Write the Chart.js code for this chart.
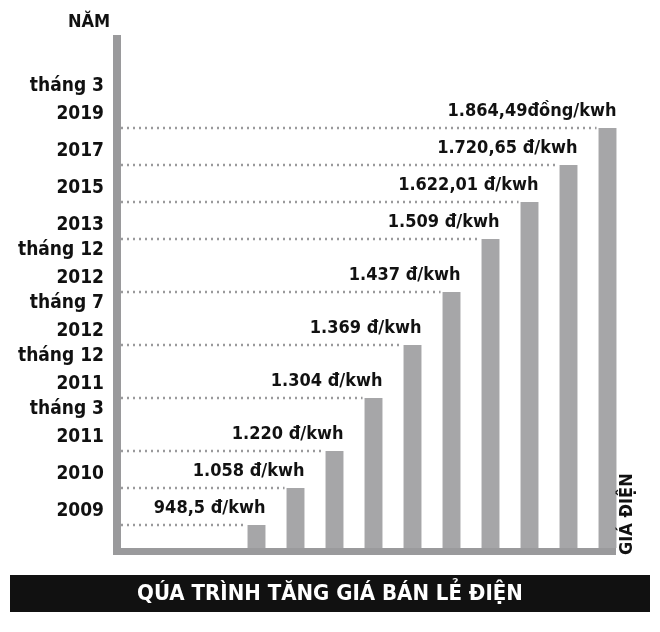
<!DOCTYPE html>
<html><head><meta charset="utf-8">
<script src="https://cdn.jsdelivr.net/npm/chart.js@4/dist/chart.umd.min.js"></script>
<style>html,body{margin:0;padding:0;background:#fff}#w{width:660px;height:632px;position:relative}</style>
</head><body><div id="w"><canvas id="c" width="660" height="632"></canvas></div>
<script>
const periods = ["2009","2010","tháng 3\n2011","tháng 12\n2011","tháng 7\n2012","tháng 12\n2012","2013","2015","2017","tháng 3\n2019"];
const prices = [948.5,1058,1220,1304,1369,1437,1509,1622.01,1720.65,1864.49];
const priceLabels = ["948,5 đ/kwh","1.058 đ/kwh","1.220 đ/kwh","1.304 đ/kwh","1.369 đ/kwh","1.437 đ/kwh","1.509 đ/kwh","1.622,01 đ/kwh","1.720,65 đ/kwh","1.864,49đồng/kwh"];
const FONT = '"DejaVu Sans Condensed", "DejaVu Sans", sans-serif';
const GRAY = '#a6a6a8';

// Stylised "ladder" value scale: price steps spaced by label height, as in the original graphic
class LadderScale extends Chart.LinearScale {
  getPixelForValue(v){
    const bottom=this.bottom, first=23, small=37, big=53;
    const pts=[[this.min,bottom],[prices[0],bottom-first]];
    let p=bottom-first;
    for(let i=1;i<prices.length;i++){ p-= periods[i-1].includes('\n')?big:small; pts.push([prices[i],p]); }
    if(v<=pts[0][0]) return bottom;
    for(let i=1;i<pts.length;i++){
      if(v<=pts[i][0]){const [a,pa]=pts[i-1],[b,pb]=pts[i];return pa+(v-a)/(b-a)*(pb-pa);}
    }
    return pts[pts.length-1][1];
  }
}
LadderScale.id='ladder';
LadderScale.defaults=Chart.LinearScale.defaults;
Chart.register(LadderScale);

const deco = {
  id:'deco',
  afterDatasetsDraw(ch){
    const c=ch.ctx, y=ch.scales.y, meta=ch.getDatasetMeta(0);
    c.save();
    c.fillStyle='#9a9a9c';
    c.fillRect(113,35,8,520);
    c.fillRect(113,548,503,7);
    meta.data.forEach((b,i)=>{
      const py=y.getPixelForValue(prices[i]);
      const left=b.x-b.width/2, right=b.x+b.width/2;
      c.strokeStyle='#9a9a9c'; c.lineWidth=2.5; c.setLineDash([2,4]);
      c.beginPath(); c.moveTo(121,py); c.lineTo(left-2,py); c.stroke();
      c.setLineDash([]);
      c.fillStyle='#111'; c.font='bold 18px '+FONT;
      c.textAlign='right'; c.textBaseline='alphabetic';
      c.fillText(priceLabels[i], right, py-12);
      const lines=periods[i].split('\n');
      c.font='bold 19px '+FONT;
      lines.forEach((l,k)=>c.fillText(l,104,py-9-(lines.length-1-k)*28));
    });
    c.font='bold 18px '+FONT; c.textAlign='left';
    c.fillText('NĂM',68,27);
    c.translate(632,555); c.rotate(-Math.PI/2);
    c.fillText('GIÁ ĐIỆN',0,0);
    c.setTransform(1,0,0,1,0,0);
    c.fillStyle='#111'; c.fillRect(10,575,640,37);
    c.fillStyle='#fff'; c.font='bold 22px '+FONT; c.textAlign='center'; c.textBaseline='middle';
    c.fillText('QÚA TRÌNH TĂNG GIÁ BÁN LẺ ĐIỆN',330,594);
    c.restore();
  }
};
new Chart(document.getElementById('c'),{
  type:'bar',
  data:{labels:periods,datasets:[{data:prices,backgroundColor:GRAY,barPercentage:0.46,categoryPercentage:1}]},
  options:{responsive:false,animation:false,
    layout:{padding:{left:237,right:33,top:35,bottom:84}},
    plugins:{legend:{display:false},tooltip:{enabled:false}},
    scales:{x:{display:false},y:{type:'ladder',display:false,min:900,max:2000}}},
  plugins:[deco]
});
</script></body></html>
